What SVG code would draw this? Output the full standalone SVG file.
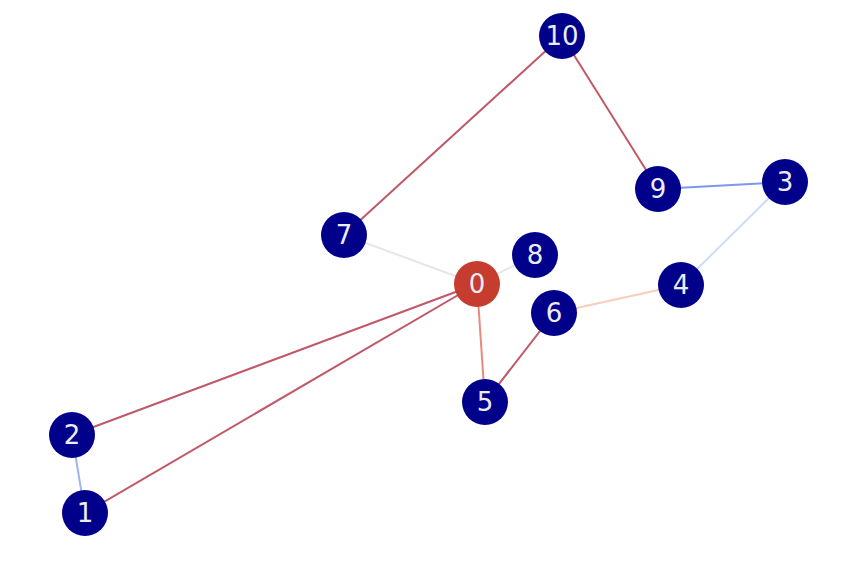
<svg xmlns="http://www.w3.org/2000/svg" width="868" height="566" viewBox="0 0 868 566">
<style>
.e{stroke-width:2;fill:none;stroke-opacity:0.72}
.n circle{fill:#00008b}
.n text{font-family:"DejaVu Sans",sans-serif;font-size:26px;fill:#ececf5;text-anchor:middle;dominant-baseline:central}
</style>
<rect width="868" height="566" fill="#ffffff"/>
<g id="edges">
<line class="e" x1="562" y1="36" x2="344" y2="235" stroke="#a8172e"/>
<line class="e" x1="562" y1="36" x2="658" y2="189" stroke="#a8172e"/>
<line class="e" x1="658" y1="189" x2="785" y2="182" stroke="#4a6fe3"/>
<line class="e" x1="785" y1="182" x2="681" y2="285" stroke="#b9cdf5"/>
<line class="e" x1="344" y1="235" x2="477" y2="284" stroke="#dcdcdc"/>
<line class="e" x1="535" y1="255" x2="477" y2="284" stroke="#dcdcdc"/>
<line class="e" x1="477" y1="284" x2="72" y2="435" stroke="#a8172e"/>
<line class="e" x1="477" y1="284" x2="85" y2="513" stroke="#a8172e"/>
<line class="e" x1="477" y1="284" x2="485" y2="402" stroke="#dc5d4a"/>
<line class="e" x1="485" y1="402" x2="554" y2="313" stroke="#a8172e"/>
<line class="e" x1="554" y1="313" x2="681" y2="285" stroke="#f2bba0"/>
<line class="e" x1="72" y1="435" x2="85" y2="513" stroke="#7598f0"/>
</g>
<g id="node0" class="n"><circle cx="477" cy="284" r="23" style="fill:#c63d30"/><text x="477" y="284">0</text></g>
<g id="node1" class="n"><circle cx="85" cy="513" r="23"/><text x="85" y="513">1</text></g>
<g id="node2" class="n"><circle cx="72" cy="435" r="23"/><text x="72" y="435">2</text></g>
<g id="node3" class="n"><circle cx="785" cy="182" r="23"/><text x="785" y="182">3</text></g>
<g id="node4" class="n"><circle cx="681" cy="285" r="23"/><text x="681" y="285">4</text></g>
<g id="node5" class="n"><circle cx="485" cy="402" r="23"/><text x="485" y="402">5</text></g>
<g id="node6" class="n"><circle cx="554" cy="313" r="23"/><text x="554" y="313">6</text></g>
<g id="node7" class="n"><circle cx="344" cy="235" r="23"/><text x="344" y="235">7</text></g>
<g id="node8" class="n"><circle cx="535" cy="255" r="23"/><text x="535" y="255">8</text></g>
<g id="node9" class="n"><circle cx="658" cy="189" r="23"/><text x="658" y="189">9</text></g>
<g id="node10" class="n"><circle cx="562" cy="36" r="23"/><text x="562" y="36">10</text></g>
</svg>
